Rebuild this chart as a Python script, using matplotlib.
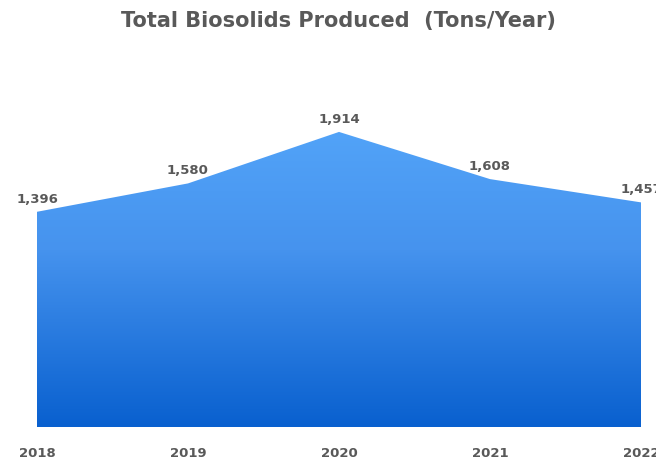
import matplotlib.pyplot as plt
import numpy as np
from matplotlib.patches import Polygon
from matplotlib.colors import LinearSegmentedColormap

years = ["2018", "2019", "2020", "2021", "2022"]
tons = [1396, 1580, 1914, 1608, 1457]
labels = ["1,396", "1,580", "1,914", "1,608", "1,457"]

grey = "#595959"
fill_cmap = LinearSegmentedColormap.from_list(
    "fill", [(0.0, "#52A3F8"), (0.4, "#4693EE"), (1.0, "#0960CF")])

fig = plt.figure(figsize=(6.56, 4.6), dpi=100)
ax = fig.add_axes([37 / 656, 32 / 460, 604 / 656, 370 / 460])

x = np.arange(len(years))
ymax = 2400
ax.set_xlim(0, len(years) - 1)
ax.set_ylim(0, ymax)

# gradient fill clipped to the area under the line
top = max(tons)
grad = np.linspace(0, 1, 256)[:, None] * np.ones((1, 2))
im = ax.imshow(grad, cmap=fill_cmap, extent=[0, len(years) - 1, 0, top],
               aspect="auto", origin="upper", zorder=1)
verts = [(0, 0)] + list(zip(x, tons)) + [(len(years) - 1, 0)]
poly = Polygon(verts, closed=True, facecolor="none", edgecolor="none")
ax.add_patch(poly)
im.set_clip_path(poly)

for xi, v, lab in zip(x, tons, labels):
    ax.annotate(lab, (xi, v), xytext=(0, 5), textcoords="offset points",
                ha="center", va="bottom", fontsize=9.5, fontweight="bold",
                color=grey, annotation_clip=False)

ax.set_xticks(x)
ax.set_xticklabels(years, fontsize=9.5, fontweight="bold", color=grey)
ax.tick_params(axis="x", length=0, pad=14)
ax.set_yticks([])
for s in ax.spines.values():
    s.set_visible(False)

fig.suptitle("Total Biosolids Produced  (Tons/Year)", x=338 / 656, y=0.975,
             fontsize=15, fontweight="bold", color=grey)

fig.savefig("out.png", dpi=100)
